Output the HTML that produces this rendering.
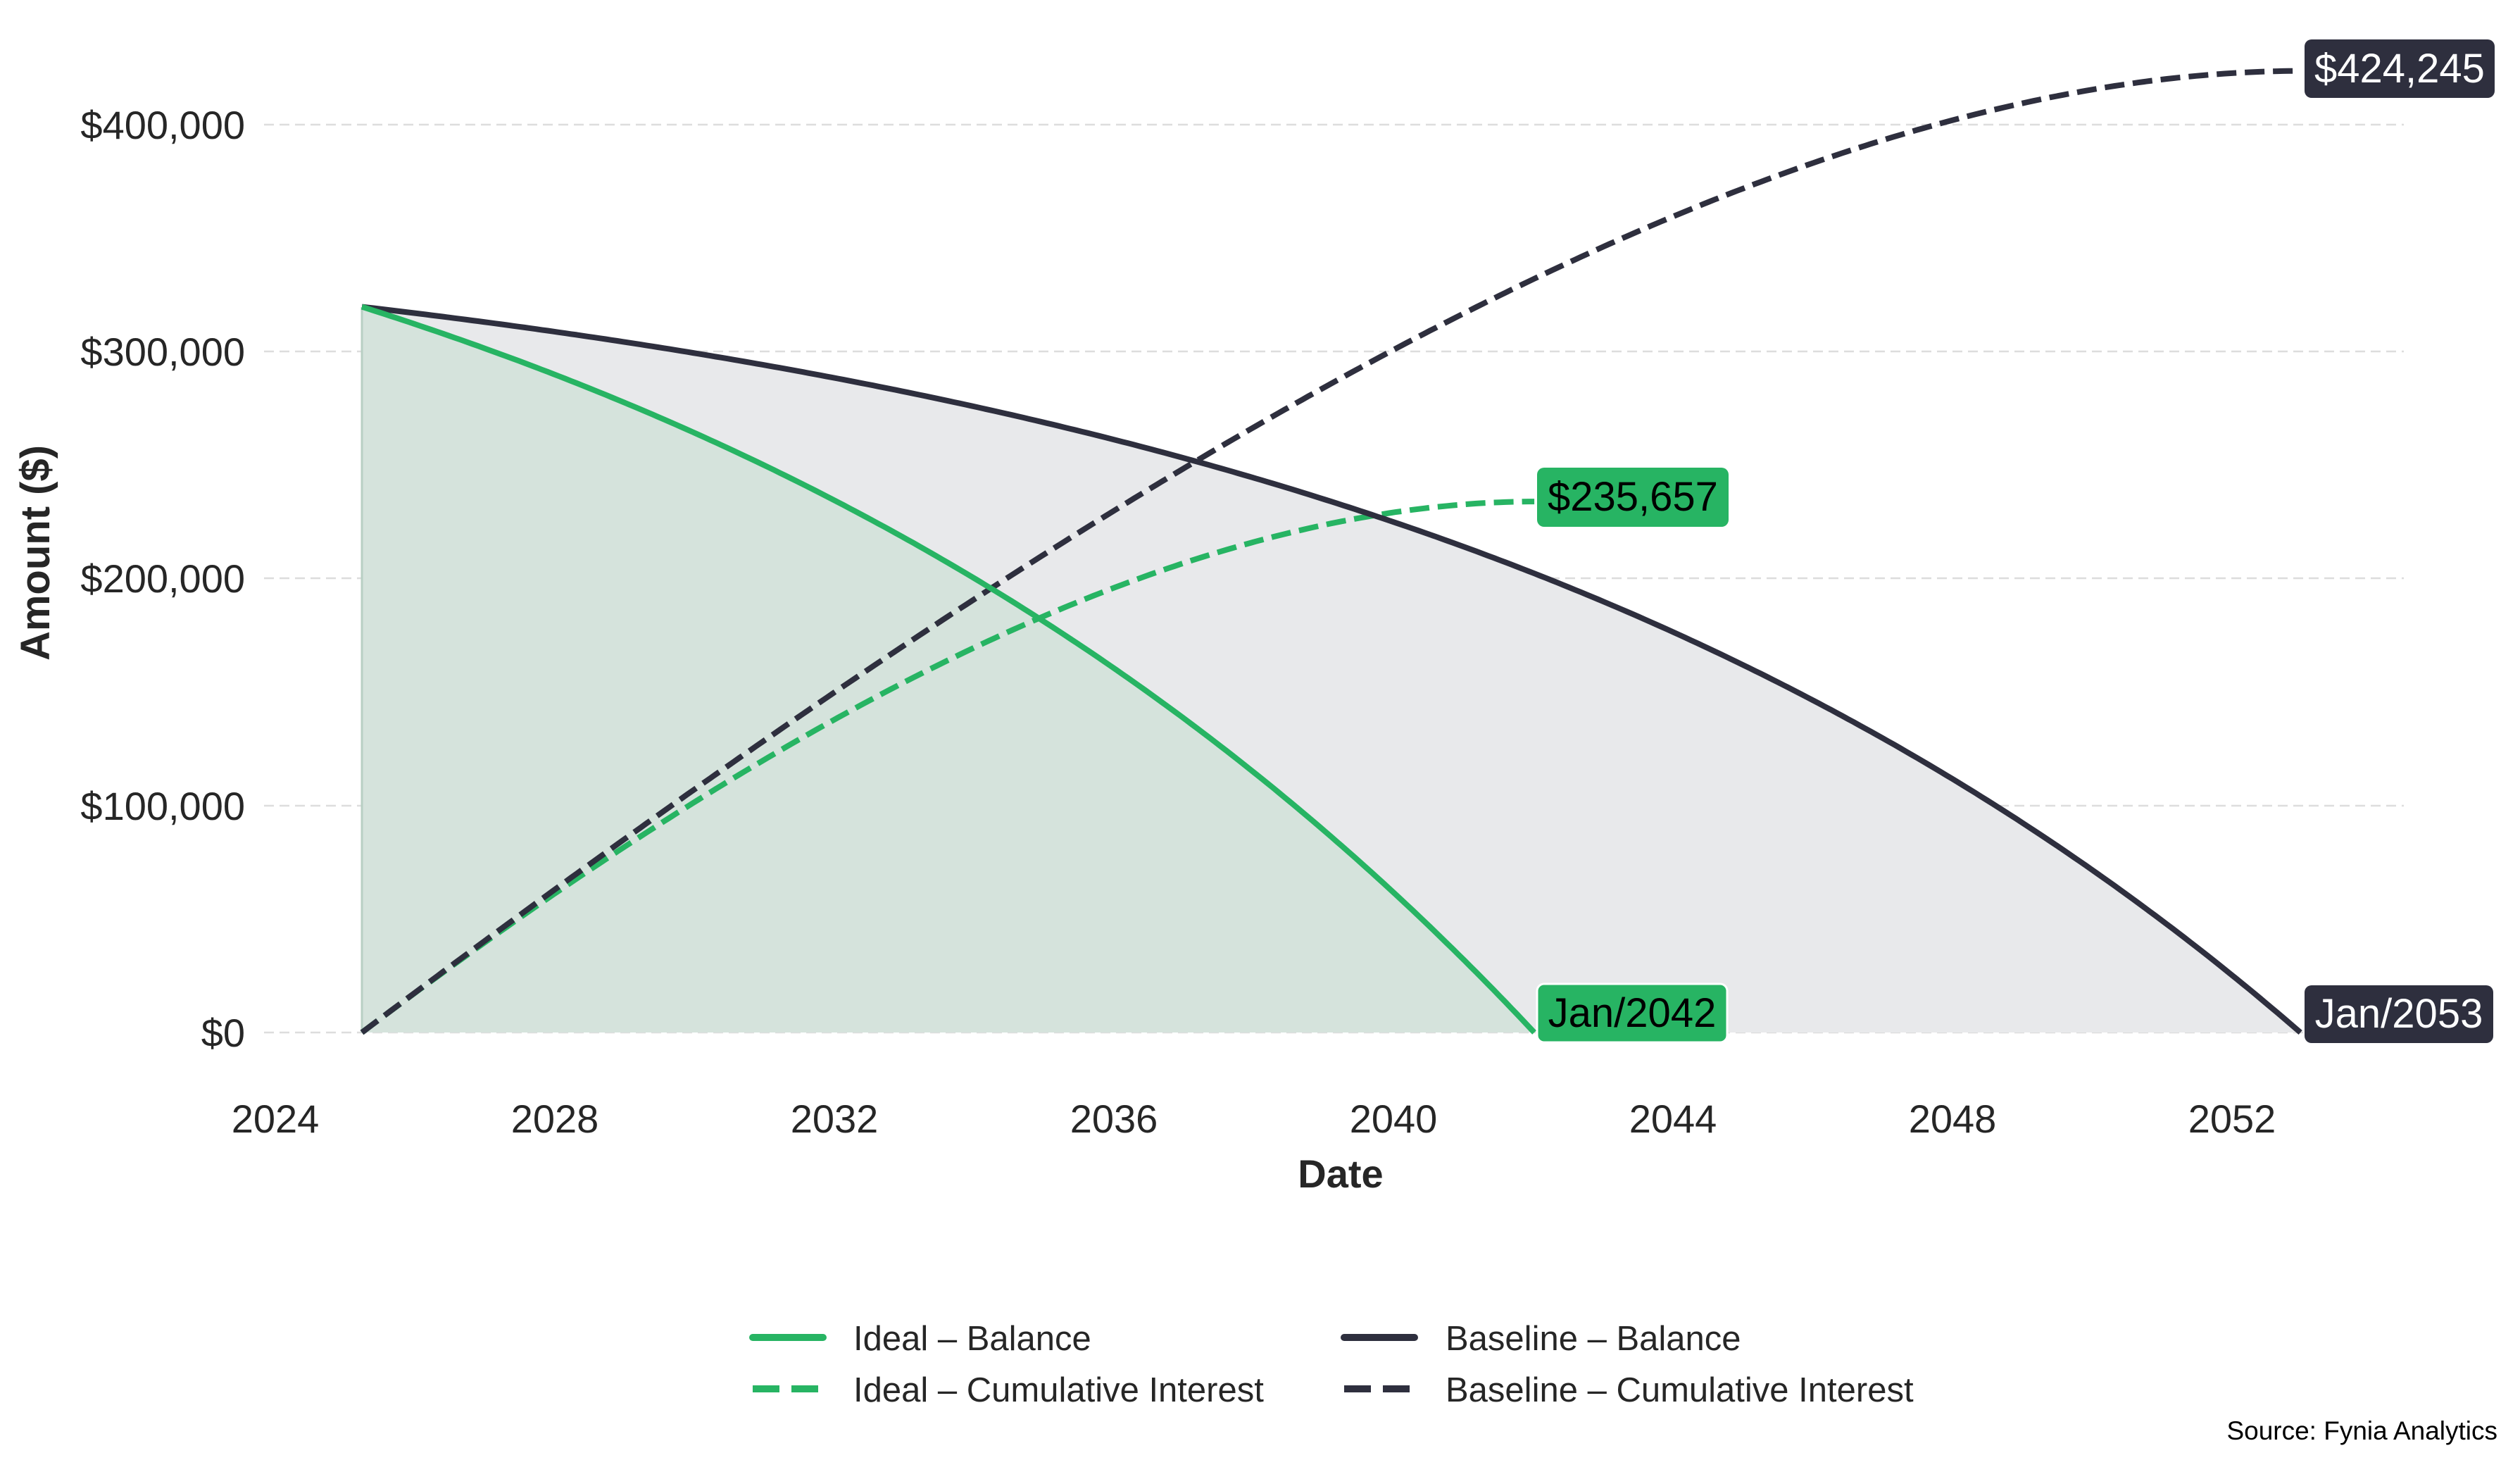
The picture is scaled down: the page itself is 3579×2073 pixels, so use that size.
<!DOCTYPE html>
<html><head><meta charset="utf-8"><style>
html,body{margin:0;padding:0;background:#fff;}
svg{display:block;font-family:"Liberation Sans",sans-serif;}
</style></head><body>
<svg id="s" width="3579" height="2073" viewBox="0 0 3579 2073" xmlns="http://www.w3.org/2000/svg">
<g stroke="#dddddd" stroke-width="2.5" stroke-dasharray="14,8">
<line x1="375" x2="3414" y1="177" y2="177"/>
<line x1="375" x2="3414" y1="499" y2="499"/>
<line x1="375" x2="3414" y1="821" y2="821"/>
<line x1="375" x2="3414" y1="1144" y2="1144"/>
<line x1="375" x2="3414" y1="1466" y2="1466"/>
</g>
<g id="fills"></g>
<g id="lines"></g>
<g font-size="56" fill="#262626" text-anchor="end">
<text x="348" y="197">$400,000</text>
<text x="348" y="519">$300,000</text>
<text x="348" y="841">$200,000</text>
<text x="348" y="1164">$100,000</text>
<text x="348" y="1486">$0</text>
</g>
<g font-size="56" fill="#262626" text-anchor="middle">
<text x="391" y="1608">2024</text>
<text x="788" y="1608">2028</text>
<text x="1185" y="1608">2032</text>
<text x="1582" y="1608">2036</text>
<text x="1979" y="1608">2040</text>
<text x="2376" y="1608">2044</text>
<text x="2773" y="1608">2048</text>
<text x="3170" y="1608">2052</text>
</g>
<text x="1904" y="1686" font-size="56" font-weight="bold" fill="#262626" text-anchor="middle">Date</text>
<text transform="translate(70,785) rotate(-90)" font-size="58" font-weight="bold" fill="#262626" text-anchor="middle">Amount ($)</text>
<rect x="3273" y="56" width="270" height="83" rx="10" fill="#2e2f3e"/>
<text x="3408" y="117" font-size="58" fill="#fff" text-anchor="middle">$424,245</text>
<rect x="2183" y="664" width="272" height="84" rx="10" fill="#27b463"/>
<text x="2319" y="725" font-size="58" fill="#000" text-anchor="middle">$235,657</text>
<rect x="2183" y="1397" width="270" height="83" rx="10" fill="#27b463" stroke="#fff" stroke-width="3"/>
<text x="2318" y="1458" font-size="58" fill="#000" text-anchor="middle">Jan/2042</text>
<rect x="3273" y="1399" width="268" height="82" rx="10" fill="#2e2f3e"/>
<text x="3407" y="1459" font-size="58" fill="#fff" text-anchor="middle">Jan/2053</text>
<g stroke-width="10">
<line x1="1069" x2="1169" y1="1899" y2="1899" stroke="#27b463" stroke-linecap="round"/>
<line x1="1069" x2="1169" y1="1972" y2="1972" stroke="#27b463" stroke-dasharray="38,17"/>
<line x1="1909" x2="2009" y1="1899" y2="1899" stroke="#2e2f3e" stroke-linecap="round"/>
<line x1="1909" x2="2009" y1="1972" y2="1972" stroke="#2e2f3e" stroke-dasharray="38,17"/>
</g>
<g font-size="49" fill="#262626">
<text x="1212" y="1917">Ideal – Balance</text>
<text x="1212" y="1990">Ideal – Cumulative Interest</text>
<text x="2053" y="1917">Baseline – Balance</text>
<text x="2053" y="1990">Baseline – Cumulative Interest</text>
</g>
<text x="3547" y="2044" font-size="37" fill="#000" text-anchor="end">Source: Fynia Analytics</text>
</svg>
<script>
(function(){
var P=320000,r=0.0723/12;
function X(m){return 514+m*8.243;}
function Y(v){return 1466-v*0.00322;}
function series(N){
 var q=Math.pow(1+r,N),pmt=P*r*q/(q-1);var bal=[],ci=[];
 for(var m=0;m<=N;m++){var b=P*(q-Math.pow(1+r,m))/(q-1);bal.push([X(m),Y(b)]);ci.push([X(m),Y(m*pmt-(P-b))]);}
 return {bal:bal,ci:ci};
}
function d(a){return "M"+a.map(function(p){return p[0].toFixed(1)+","+p[1].toFixed(1);}).join("L");}
var b=series(334),i=series(202);
var F=document.getElementById("fills"),L=document.getElementById("lines");
var ns="http://www.w3.org/2000/svg";
function path(g,dd,attrs){var e=document.createElementNS(ns,"path");e.setAttribute("d",dd);for(var k in attrs)e.setAttribute(k,attrs[k]);g.appendChild(e);}
path(F,d(b.bal)+"L"+X(334)+",1466L514,1466Z",{fill:"#e8e9eb"});
path(F,d(i.bal)+"L"+X(202)+",1466L514,1466Z",{fill:"#d5e3dc"});
path(F,"M514,436L514,1466",{stroke:"#b8cfc3","stroke-width":"3"});
var o={fill:"none","stroke-width":"8","stroke-linejoin":"round"};
function ext(a,b2){var r2={};for(var k in a)r2[k]=a[k];for(var k2 in b2)r2[k2]=b2[k2];return r2;}
path(L,d(i.ci),ext(o,{stroke:"#27b463","stroke-dasharray":"28,12"}));
path(L,d(b.ci),ext(o,{stroke:"#2e2f3e","stroke-dasharray":"28,12"}));
path(L,d(b.bal),ext(o,{stroke:"#2e2f3e"}));
path(L,d(i.bal),ext(o,{stroke:"#27b463"}));
})();
</script>
</body></html>
